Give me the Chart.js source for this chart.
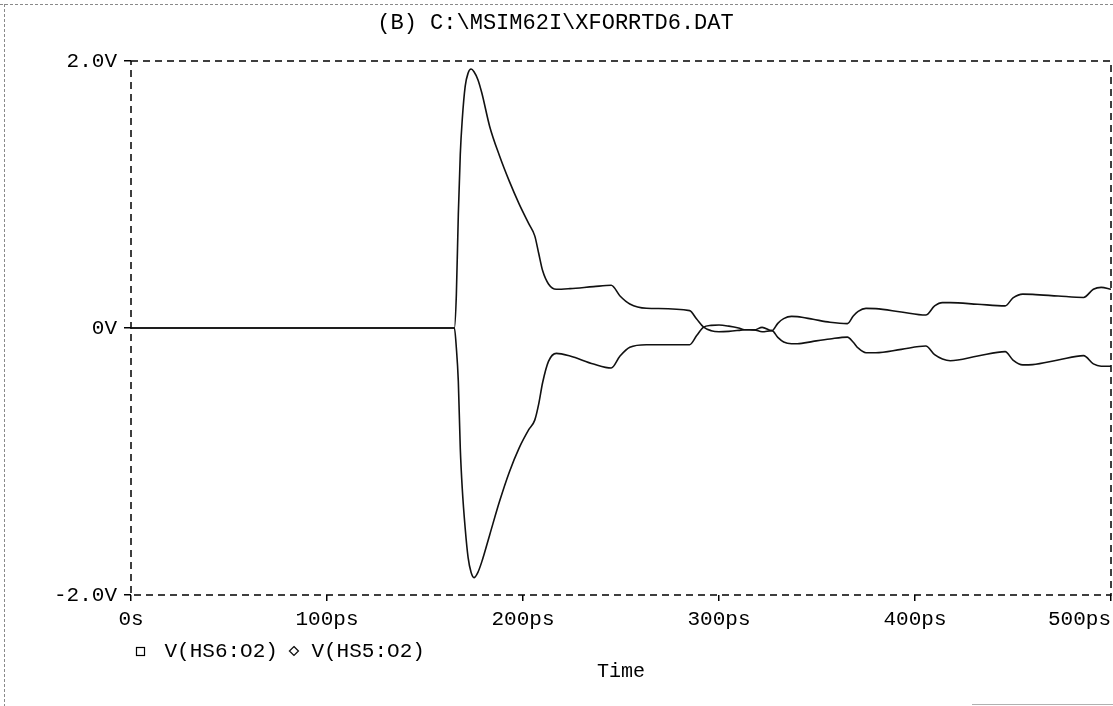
<!DOCTYPE html>
<html>
<head>
<meta charset="utf-8">
<script src="https://cdn.jsdelivr.net/npm/chart.js@4.4.1/dist/chart.umd.min.js"></script>
<style>
  html, body { margin: 0; padding: 0; background: #fff; }
  #wrap { width: 1113px; height: 706px; position: relative; }
</style>
</head>
<body>
<div id="wrap"><canvas id="c" width="1113" height="706"></canvas></div>
<script>
// Transient simulation: time points (ps) and node voltages (V)
const timePs = [0, 165, 166, 167, 168, 169, 170.5, 172, 173.5, 175, 177, 179, 183, 188, 193, 198, 203, 206, 208, 210, 213, 217, 224, 236, 245, 249.5, 254.5, 263, 285, 288.6, 292, 296, 300, 305, 310, 313, 318, 322, 327, 330, 333, 337, 340, 348, 356.6, 365.5, 368.5, 371, 375, 380, 393, 405.5, 410, 414, 418, 432, 446, 450, 455, 460, 473, 486, 491, 495, 500];
const vHS6 = [0, 0, 0.25, 0.85, 1.3, 1.56, 1.81, 1.91, 1.94, 1.92, 1.86, 1.76, 1.51, 1.29, 1.1, 0.93, 0.78, 0.69, 0.56, 0.43, 0.33, 0.29, 0.295, 0.31, 0.32, 0.24, 0.18, 0.148, 0.13, 0.067, 0.008, -0.02, -0.028, -0.025, -0.018, -0.013, -0.014, 0.005, -0.02, 0.035, 0.07, 0.087, 0.085, 0.065, 0.043, 0.033, 0.09, 0.125, 0.147, 0.145, 0.12, 0.097, 0.165, 0.19, 0.19, 0.178, 0.166, 0.225, 0.254, 0.252, 0.24, 0.229, 0.29, 0.304, 0.29];
const vHS5 = [0, 0, -0.15, -0.4, -0.9, -1.2, -1.5, -1.72, -1.83, -1.87, -1.83, -1.75, -1.55, -1.3, -1.08, -0.9, -0.76, -0.69, -0.57, -0.41, -0.25, -0.19, -0.21, -0.27, -0.30, -0.21, -0.144, -0.125, -0.125, -0.057, 0.005, 0.02, 0.022, 0.014, 0.0, -0.013, -0.014, -0.028, -0.02, -0.07, -0.105, -0.118, -0.118, -0.1, -0.082, -0.068, -0.107, -0.15, -0.185, -0.185, -0.16, -0.135, -0.2, -0.232, -0.245, -0.21, -0.177, -0.24, -0.276, -0.274, -0.24, -0.207, -0.269, -0.286, -0.286];

const seriesNames = ['V(HS6:O2)', 'V(HS5:O2)'];
const timeTicks = [0, 100, 200, 300, 400, 500];
const timeTickLabels = ['0s', '100ps', '200ps', '300ps', '400ps', '500ps'];
const voltTicks = [-2, 0, 2];
const voltTickLabels = ['-2.0V', '0V', '2.0V'];
const titleText = '(B) C:\\MSIM62I\\XFORRTD6.DAT';
const xTitleText = 'Time';

const MONO = '"Liberation Mono", "DejaVu Sans Mono", monospace';

// Legend symbols: hollow square (set to the left of its cell) and hollow diamond
function legendSymbol(kind) {
  const c = document.createElement('canvas');
  const g = c.getContext('2d');
  if (kind === 'square') {
    c.width = 34; c.height = 14;
    g.strokeStyle = '#000'; g.lineWidth = 1.2;
    g.strokeRect(6.5, 3.5, 8, 8);
  } else {
    c.width = 14; c.height = 14;
    g.strokeStyle = '#000'; g.lineWidth = 1.2;
    g.beginPath();
    g.moveTo(7, 2.5); g.lineTo(11.5, 7); g.lineTo(7, 11.5); g.lineTo(2.5, 7);
    g.closePath(); g.stroke();
  }
  return c;
}

const toPoints = (ys) => timePs.map((t, i) => ({ x: t, y: ys[i] }));

// Faint page edge lines, the dashed plot frame and label alignment tweak
const sheet = {
  id: 'sheet',
  beforeDraw(chart) {
    const ctx = chart.ctx;
    ctx.save();
    ctx.strokeStyle = '#8a8a8a';
    ctx.lineWidth = 1;
    ctx.setLineDash([3, 2]);
    ctx.beginPath();
    ctx.moveTo(4.5, 4); ctx.lineTo(4.5, 706);
    ctx.moveTo(0, 4.5); ctx.lineTo(1113, 4.5);
    ctx.stroke();
    ctx.setLineDash([]);
    ctx.strokeStyle = '#b0b0b0';
    ctx.beginPath();
    ctx.moveTo(972, 704.5); ctx.lineTo(1113, 704.5);
    ctx.stroke();
    ctx.restore();
    // keep the first time label centred under its tick
    const items = chart.scales.x.getLabelItems(chart.chartArea);
    if (items.length) items[0].options.textAlign = 'center';
  },
  beforeDatasetsDraw(chart) {
    const { ctx, chartArea: a } = chart;
    ctx.save();
    ctx.strokeStyle = '#000';
    ctx.lineWidth = 1.5;
    ctx.setLineDash([7, 5]);
    ctx.strokeRect(a.left, a.top, a.right - a.left, a.bottom - a.top);
    ctx.restore();
  }
};

new Chart(document.getElementById('c'), {
  type: 'line',
  data: {
    datasets: [
      { label: seriesNames[0], data: toPoints(vHS6), borderColor: '#111', borderWidth: 1.6,
        pointRadius: 0, pointStyle: legendSymbol('square'), cubicInterpolationMode: 'monotone', fill: false },
      { label: seriesNames[1], data: toPoints(vHS5), borderColor: '#111', borderWidth: 1.6,
        pointRadius: 0, pointStyle: legendSymbol('diamond'), cubicInterpolationMode: 'monotone', fill: false }
    ]
  },
  options: {
    responsive: false,
    devicePixelRatio: 1,
    animation: false,
    layout: { padding: { left: 0, right: 2, top: 0, bottom: 22 } },
    scales: {
      x: {
        type: 'linear', position: 'bottom', min: 0, max: 500,
        afterBuildTicks: (s) => { s.ticks = timeTicks.map(v => ({ value: v })); },
        afterFit: (s) => { s.height = 36.5; s.paddingLeft = 0; s.paddingRight = 0; },
        ticks: {
          align: 'inner', padding: 6, color: '#000', maxRotation: 0,
          font: { family: MONO, size: 21 },
          callback: (v) => timeTickLabels[timeTicks.indexOf(v)]
        },
        grid: { drawOnChartArea: false, drawTicks: true, tickLength: 6, color: '#000', lineWidth: 1.5 },
        border: { display: false }
      },
      y: {
        type: 'linear', position: 'left', min: -2, max: 2,
        afterBuildTicks: (s) => { s.ticks = voltTicks.map(v => ({ value: v })); },
        afterFit: (s) => { s.width = 131; },
        ticks: {
          padding: 7, color: '#000',
          font: { family: MONO, size: 21 },
          callback: (v) => voltTickLabels[voltTicks.indexOf(v)]
        },
        grid: { drawOnChartArea: false, drawTicks: true, tickLength: 7, color: '#000', lineWidth: 1.5 },
        border: { display: false }
      }
    },
    plugins: {
      title: {
        display: true, text: titleText, color: '#000',
        font: { family: MONO, size: 22, weight: 'normal' },
        padding: { top: 10, bottom: 24.6 }
      },
      subtitle: {
        display: true, text: xTitleText, position: 'bottom', fullSize: false, color: '#000',
        font: { family: MONO, size: 20, weight: 'normal' },
        padding: { top: -11.5, bottom: 0 }
      },
      legend: {
        display: true, position: 'bottom', align: 'start', fullSize: false,
        labels: {
          usePointStyle: true, boxWidth: 14, boxHeight: 14, padding: 9, color: '#000',
          font: { family: MONO, size: 21 }
        }
      },
      tooltip: { enabled: false }
    }
  },
  plugins: [sheet]
});
</script>
</body>
</html>
